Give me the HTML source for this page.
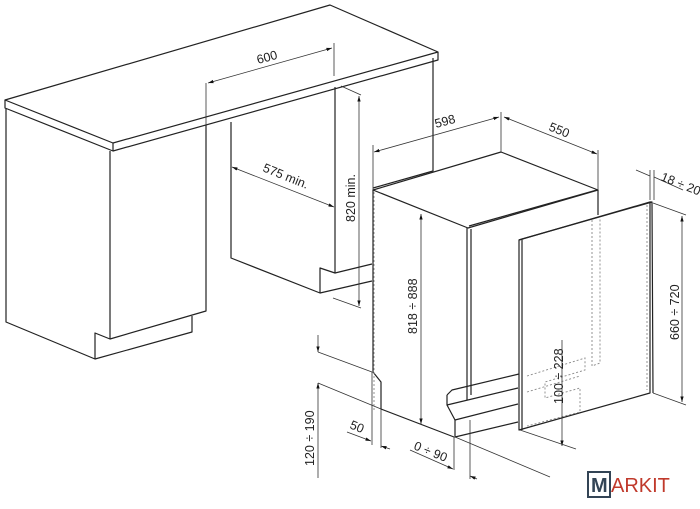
<!DOCTYPE html>
<html><head><meta charset="utf-8"><style>
html,body{margin:0;padding:0;background:#fff;width:700px;height:509px;overflow:hidden}
text{font-family:"Liberation Sans",sans-serif;font-size:12.5px;fill:#222}
</style></head><body>
<svg width="700" height="509" viewBox="0 0 700 509" xmlns="http://www.w3.org/2000/svg">
<defs>
<marker id="a" viewBox="0 0 10 10" refX="10" refY="5" markerWidth="7" markerHeight="7" orient="auto-start-reverse"><path d="M0,2 L10,5 L0,8 z" fill="#111"/></marker>
</defs>
<g fill="none" stroke="#222" stroke-width="1.2" stroke-linejoin="round">
<path d="M5,100 L330,5 L438,52 L113,143 Z" fill="#fff"/>
<path d="M5,100 L5,108 L113,151 L438,60 L438,52"/>
<path d="M113,143 L113,151"/>
<path d="M6,108 L6,322 L95,359 L95,333 L110,339 L206,311 L206,125"/>
<path d="M110,151 L110,339"/>
<path d="M95,359 L192,332 L192,316"/>
<path d="M231,122 L231,258 L320,293 L320,268 L335,273 L335,87"/>
<path d="M320,293 L372,281"/>
<path d="M335,273 L372,264"/>
<path d="M433,58 L433,171 L373,188"/>
<path d="M373,190 L501,152 L598,190 L468,228 Z" fill="#fff"/>
<path d="M373,190 L373,372 L381,382 L381,409 L454,437"/>
<path d="M467,228 L467,400"/>
<path d="M471,229 L471,395"/>
<path d="M469,226 L597,190"/>
<path d="M598,190 L598,215"/>
<path d="M447,395 L452,390 L519,374"/>
<path d="M447,395 L447,405 L518,388"/>
<path d="M447,405 L455,420 L518,404"/>
<path d="M455,420 L455,437 L518,422"/>
<path d="M519,240 L650,202 L650,393 L519,430 Z" fill="#fff"/>
<path d="M522,239 L522,430 M519,240 L522,239 L652,202 L650,202 M652,202 L653,393"/>
</g>
<g fill="none" stroke="#888" stroke-width="0.9" stroke-dasharray="2,2">
<path d="M592,220 L592,366 L600,363 L600,218"/>
<path d="M647,205 L647,390"/>
<path d="M527,376 L585,358 L585,370 L545,382 L545,398 L580,388 L580,412 L527,426"/>
<path d="M527,392 L580,376"/>
<path d="M374,192 L374,410"/>
</g>
<g fill="none" stroke="#333" stroke-width="0.8">
<path d="M206,83 L206,125 M334,43 L334,76"/>
<path d="M208,83 L332,48" marker-start="url(#a)" marker-end="url(#a)"/>
<path d="M232,167 L334,207" marker-start="url(#a)" marker-end="url(#a)"/>
<path d="M341,86 L361,95 M333,298 L361,308"/>
<path d="M359,96 L359,306" marker-start="url(#a)" marker-end="url(#a)"/>
<path d="M373,145 L373,190 M501,112 L501,152 M598,150 L598,190"/>
<path d="M374,152 L499,117" marker-start="url(#a)" marker-end="url(#a)"/>
<path d="M504,117 L597,154" marker-start="url(#a)" marker-end="url(#a)"/>
<path d="M421,214 L421,424" marker-start="url(#a)" marker-end="url(#a)"/>
<path d="M650,170 L650,200 M654,170 L654,200"/>
<path d="M636,170 L650,176 M654,177 L683,190"/>
<path d="M653,203 L686,215 M653,393 L686,405"/>
<path d="M682,216 L682,402" marker-start="url(#a)" marker-end="url(#a)"/>
<path d="M562,340 L562,446" marker-end="url(#a)"/>
<path d="M520,430 L576,449"/>
<path d="M318,352 L372,372 M318,383 L381,409"/>
<path d="M318,335 L318,352" marker-end="url(#a)"/>
<path d="M318,383 L318,478" marker-start="url(#a)"/>
<path d="M372,372 L372,445 M381,409 L381,448"/>
<path d="M347,432 L371,441" marker-end="url(#a)"/>
<path d="M381,446 L390,449" marker-start="url(#a)"/>
<path d="M454,437 L454,470 M470,420 L470,479"/>
<path d="M410,450 L453,469" marker-end="url(#a)"/>
<path d="M470,476 L477,479" marker-start="url(#a)"/>
<path d="M455,437 L550,477"/>
</g>
<text transform="translate(258,64) rotate(-15)">600</text>
<text transform="translate(262,171) rotate(22)">575 min.</text>
<text transform="translate(355,222) rotate(-90)">820  min.</text>
<text transform="translate(436,128) rotate(-15)">598</text>
<text transform="translate(548,130) rotate(22)">550</text>
<text transform="translate(660,180) rotate(22)">18 ÷ 20</text>
<text transform="translate(417,334) rotate(-90)">818 ÷ 888</text>
<text transform="translate(679,340) rotate(-90)">660 ÷ 720</text>
<text transform="translate(563,404) rotate(-90)">100 ÷ 228</text>
<text transform="translate(314,466) rotate(-90)">120 ÷ 190</text>
<text transform="translate(349,428) rotate(22)">50</text>
<text transform="translate(413,449) rotate(22)">0 ÷ 90</text>
<rect x="588" y="472" width="22" height="25" fill="none" stroke="#345" stroke-width="2"/>
<text x="591" y="492" style="font-size:20px;fill:#345;font-weight:bold">M</text>
<text x="611" y="492" style="font-size:20px;fill:#c0392b">ARKIT</text>
</svg>
</body></html>
